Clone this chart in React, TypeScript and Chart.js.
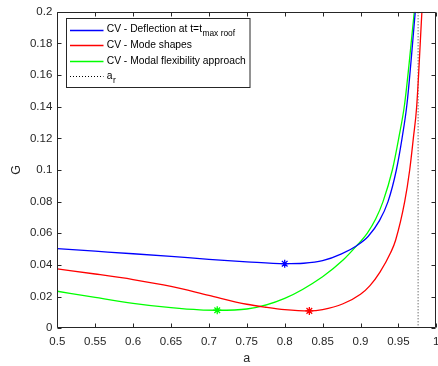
import React, { useEffect, useRef } from "react";
import { Chart, registerables } from "chart.js";

Chart.register(...registerables);

// ---- data ----
const aBlue = [0.5, 0.55, 0.6, 0.65, 0.7, 0.75, 0.8, 0.825, 0.85, 0.875, 0.895, 0.91, 0.925, 0.9363, 0.9473, 0.9548, 0.9614, 0.9723];
const gBlue = [0.0503, 0.0487, 0.0471, 0.0454, 0.0436, 0.042, 0.0408, 0.0411, 0.0427, 0.047, 0.0522, 0.058, 0.068, 0.08, 0.1, 0.12, 0.142, 0.2];

const aRed = [0.5, 0.55, 0.6, 0.65, 0.7, 0.75, 0.775, 0.8, 0.8325, 0.85, 0.877, 0.9, 0.9125, 0.9257, 0.94, 0.9464, 0.9583, 0.9649, 0.9697, 0.9741, 0.981];
const gRed = [0.0375, 0.0343, 0.0308, 0.0265, 0.0208, 0.0152, 0.0133, 0.0118, 0.011, 0.0118, 0.0155, 0.0215, 0.027, 0.0355, 0.048, 0.0558, 0.08, 0.1, 0.12, 0.14, 0.2];

const aGreen = [0.5, 0.55, 0.6, 0.65, 0.688, 0.711, 0.75, 0.8, 0.85, 0.877, 0.895, 0.909, 0.92, 0.9297, 0.942, 0.9504, 0.9583, 0.971];
const gGreen = [0.0234, 0.0195, 0.0158, 0.013, 0.0116, 0.0114, 0.0122, 0.0189, 0.0326, 0.0431, 0.0522, 0.0602, 0.069, 0.08, 0.1, 0.12, 0.142, 0.2];

const minBlue = [0.8, 0.0408];
const minRed = [0.8325, 0.011];
const minGreen = [0.711, 0.0114];

const aR = 0.976;

const xTicks = [0.5, 0.55, 0.6, 0.65, 0.7, 0.75, 0.8, 0.85, 0.9, 0.95, 1];
const xTickLabels = ["0.5", "0.55", "0.6", "0.65", "0.7", "0.75", "0.8", "0.85", "0.9", "0.95", "1"];
const yTicks = [0, 0.02, 0.04, 0.06, 0.08, 0.1, 0.12, 0.14, 0.16, 0.18, 0.2];

const legendLabels = [
  { main: "CV - Deflection at t=t", sub: "max roof", color: "#0000ff", dash: false },
  { main: "CV - Mode shapes", sub: "", color: "#ff0000", dash: false },
  { main: "CV - Modal flexibility approach", sub: "", color: "#00ff00", dash: false },
  { main: "a", sub: "r", color: "#000000", dash: true },
];

const FONT = "'Liberation Sans', Arial, Helvetica, sans-serif";
const AX = "#262626";

const pts = (xs: number[], ys: number[]) => xs.map((x, i) => ({ x, y: ys[i] }));

const framePlugin = {
  id: "frame",
  afterDraw(chart: any) {
    const { ctx, chartArea, scales } = chart;
    const { left, right, top, bottom } = chartArea;
    const xs = scales.x;
    const ys = scales.y;
    ctx.save();
    ctx.strokeStyle = AX;
    ctx.lineWidth = 1;
    const L = Math.round(left) + 0.5;
    const R = Math.round(right) - 0.5;
    const T = Math.round(top) + 0.5;
    const B = Math.round(bottom) - 0.5;
    ctx.beginPath();
    ctx.rect(L, T, R - L, B - T);
    ctx.stroke();
    const tl = 4;
    ctx.beginPath();
    xTicks.forEach((v) => {
      const p = Math.round(xs.getPixelForValue(v)) + 0.5;
      ctx.moveTo(p, B);
      ctx.lineTo(p, B - tl);
      ctx.moveTo(p, T);
      ctx.lineTo(p, T + tl);
    });
    yTicks.forEach((v) => {
      const p = Math.round(ys.getPixelForValue(v)) + 0.5;
      ctx.moveTo(L, p);
      ctx.lineTo(L + tl, p);
      ctx.moveTo(R, p);
      ctx.lineTo(R - tl, p);
    });
    ctx.stroke();

    // x tick labels
    ctx.fillStyle = AX;
    ctx.font = `11.5px ${FONT}`;
    ctx.textAlign = "center";
    ctx.textBaseline = "alphabetic";
    xTicks.forEach((v, i) => {
      ctx.fillText(xTickLabels[i], xs.getPixelForValue(v), bottom + 16.5);
    });

    // legend
    const bx = 66.5, by = 18.5, bw = 183.5, bh = 69;
    ctx.fillStyle = "#ffffff";
    ctx.fillRect(bx, by, bw, bh);
    ctx.strokeStyle = AX;
    ctx.strokeRect(bx, by, bw, bh);
    const rows = [29.5, 45.3, 60.8, 76.3];
    legendLabels.forEach((item, i) => {
      const yy = rows[i];
      ctx.beginPath();
      ctx.strokeStyle = item.color;
      ctx.lineWidth = item.dash ? 1 : 1.3;
      ctx.setLineDash(item.dash ? [1, 2] : []);
      ctx.moveTo(70, Math.round(yy) + 0.5);
      ctx.lineTo(103.5, Math.round(yy) + 0.5);
      ctx.stroke();
      ctx.setLineDash([]);
      ctx.fillStyle = "#000000";
      ctx.textBaseline = "middle";
      ctx.textAlign = "left";
      ctx.font = `10.3px ${FONT}`;
      ctx.fillText(item.main, 106.7, yy);
      if (item.sub) {
        const w = ctx.measureText(item.main).width;
        ctx.font = `8.4px ${FONT}`;
        ctx.fillText(item.sub, 106.7 + w + 0.5, yy + 4);
      }
    });
    ctx.restore();
  },
};

export default function App() {
  const ref = useRef<HTMLCanvasElement | null>(null);
  useEffect(() => {
    document.body.style.margin = "0";
    const canvas = ref.current;
    if (!canvas) return;
    const lineDs = (label: string, xs: number[], ys: number[], color: string) => ({
      label,
      data: pts(xs, ys),
      borderColor: color,
      backgroundColor: color,
      borderWidth: 1.3,
      pointRadius: 0,
      cubicInterpolationMode: "monotone" as const,
      fill: false,
    });
    const starDs = (label: string, p: number[], color: string) => ({
      label,
      data: [{ x: p[0], y: p[1] }],
      showLine: false,
      pointStyle: "star" as const,
      pointRadius: 4,
      pointBorderColor: color,
      pointBackgroundColor: color,
      pointBorderWidth: 1.3,
      borderColor: color,
    });
    const chart = new Chart(canvas, {
      type: "line",
      data: {
        datasets: [
          lineDs("CV - Deflection at t=t max roof", aBlue, gBlue, "#0000ff"),
          lineDs("CV - Mode shapes", aRed, gRed, "#ff0000"),
          lineDs("CV - Modal flexibility approach", aGreen, gGreen, "#00ff00"),
          {
            label: "a_r",
            data: [
              { x: aR, y: 0 },
              { x: aR, y: 0.2 },
            ],
            borderColor: "#333333",
            borderWidth: 1,
            borderDash: [1, 2],
            pointRadius: 0,
            fill: false,
          },
          starDs("min blue", minBlue, "#0000ff"),
          starDs("min red", minRed, "#ff0000"),
          starDs("min green", minGreen, "#00ff00"),
        ] as any,
      },
      options: {
        animation: false,
        responsive: false,
        maintainAspectRatio: false,
        devicePixelRatio: 1,
        layout: { autoPadding: false, padding: { top: 11.7, right: 1.7, left: 0, bottom: 0 } },
        plugins: { legend: { display: false }, tooltip: { enabled: false } },
        elements: { line: { tension: 0 } },
        scales: {
          x: {
            type: "linear",
            min: 0.5,
            max: 1,
            afterBuildTicks: (s: any) => {
              s.ticks = xTicks.map((v) => ({ value: v }));
            },
            afterFit: (s: any) => {
              s.height = 37.7;
              s.paddingLeft = 0;
              s.paddingRight = 0;
            },
            grid: { display: false, drawTicks: false },
            border: { display: false },
            ticks: { display: false },
            title: {
              display: true,
              text: "a",
              color: AX,
              font: { family: FONT, size: 12.5 },
              padding: { top: 0, bottom: 0 },
            },
          },
          y: {
            type: "linear",
            min: 0,
            max: 0.2,
            afterBuildTicks: (s: any) => {
              s.ticks = yTicks.map((v) => ({ value: v }));
            },
            afterFit: (s: any) => {
              s.width = 57.3;
              s.paddingTop = 0;
              s.paddingBottom = 0;
            },
            grid: { display: false, drawTicks: false },
            border: { display: false },
            ticks: {
              padding: 5,
              color: AX,
              font: { family: FONT, size: 11.5 },
              autoSkip: false,
              callback: (v: any) => String(Number(Number(v).toFixed(2))),
            },
            title: {
              display: true,
              text: "G",
              color: AX,
              font: { family: FONT, size: 12.5 },
              padding: { top: 9, bottom: 9 },
            },
          },
        },
      },
      plugins: [framePlugin],
    });
    return () => chart.destroy();
  }, []);
  return (
    <div style={{ position: "absolute", left: 0, top: 0, width: 438, height: 366, background: "#fff" }}>
      <canvas ref={ref} width={438} height={366} style={{ width: 438, height: 366, display: "block" }} />
    </div>
  );
}
